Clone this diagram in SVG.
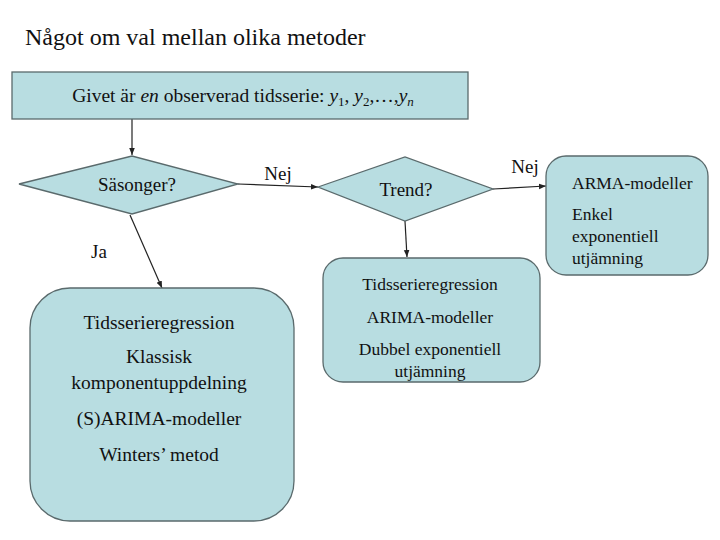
<svg xmlns="http://www.w3.org/2000/svg" width="720" height="540" viewBox="0 0 720 540">
<style>
text{font-family:'Liberation Serif','Times New Roman',Tinos,'DejaVu Serif',serif;fill:#111}
.n{fill:#b8dde1;stroke:#5a6a6c;stroke-width:1.3}
.c{stroke:#222;stroke-width:1.2;fill:none;marker-end:url(#a)}
.m{text-anchor:middle}
</style>
<defs>
<marker id="a" viewBox="0 0 10 10" refX="10" refY="5" markerWidth="7" markerHeight="7" orient="auto" markerUnits="userSpaceOnUse"><path d="M0,1 L10,5 L0,9 z" fill="#222"/></marker>
</defs>
<rect width="720" height="540" fill="#fff"/>
<text x="25" y="45" font-size="24">Något om val mellan olika metoder</text>
<g id="connectors">
<path class="c" d="M132,119 L132,155"/>
<path class="c" d="M238,184 L318,187"/>
<path class="c" d="M493,189 L546,186"/>
<path class="c" d="M405,221 L407,257"/>
<path class="c" d="M130,215 L162,288"/>
<text x="278" y="180" font-size="19" class="m">Nej</text>
<text x="525" y="173" font-size="19" class="m">Nej</text>
<text x="99" y="258" font-size="19" class="m">Ja</text>
</g>
<g id="start">
<rect class="n" x="12" y="72" width="456" height="47"/>
<text x="243" y="102" font-size="19.5" class="m">Givet är <tspan font-style="italic">en</tspan> observerad tidsserie: <tspan font-style="italic">y</tspan><tspan font-size="13" dy="4">1</tspan><tspan dy="-4">, </tspan><tspan font-style="italic">y</tspan><tspan font-size="13" dy="4">2</tspan><tspan dy="-4">,…,</tspan><tspan font-style="italic">y</tspan><tspan font-size="13" font-style="italic" dy="4">n</tspan></text>
</g>
<g id="sasonger">
<polygon class="n" points="19,184 132,156 238,184 132,214"/>
<text x="137" y="191" font-size="19" class="m">Säsonger?</text>
</g>
<g id="trend">
<polygon class="n" points="318,187 405,157 493,189 405,221"/>
<text x="406" y="196" font-size="19" class="m">Trend?</text>
</g>
<g id="arma">
<rect class="n" x="546" y="156" width="162" height="119" rx="20"/>
<text x="572" y="189" font-size="17.5">ARMA-modeller</text>
<text x="572" y="220" font-size="17.5">Enkel</text>
<text x="572" y="242" font-size="17.5">exponentiell</text>
<text x="572" y="264" font-size="17.5">utjämning</text>
</g>
<g id="trendbox">
<rect class="n" x="323" y="258" width="217" height="124" rx="20"/>
<text x="430" y="290" font-size="17.5" class="m">Tidsserieregression</text>
<text x="430" y="323" font-size="17.5" class="m">ARIMA-modeller</text>
<text x="430" y="355" font-size="17.5" class="m">Dubbel exponentiell</text>
<text x="430" y="377" font-size="17.5" class="m">utjämning</text>
</g>
<g id="season">
<rect class="n" x="30" y="288" width="264" height="233" rx="40"/>
<text x="159" y="329" font-size="19.5" class="m">Tidsserieregression</text>
<text x="159" y="363" font-size="19.5" class="m">Klassisk</text>
<text x="159" y="389" font-size="19.5" class="m">komponentuppdelning</text>
<text x="159" y="425" font-size="19.5" class="m">(S)ARIMA-modeller</text>
<text x="159" y="461" font-size="19.5" class="m">Winters’ metod</text>
</g>
</svg>
